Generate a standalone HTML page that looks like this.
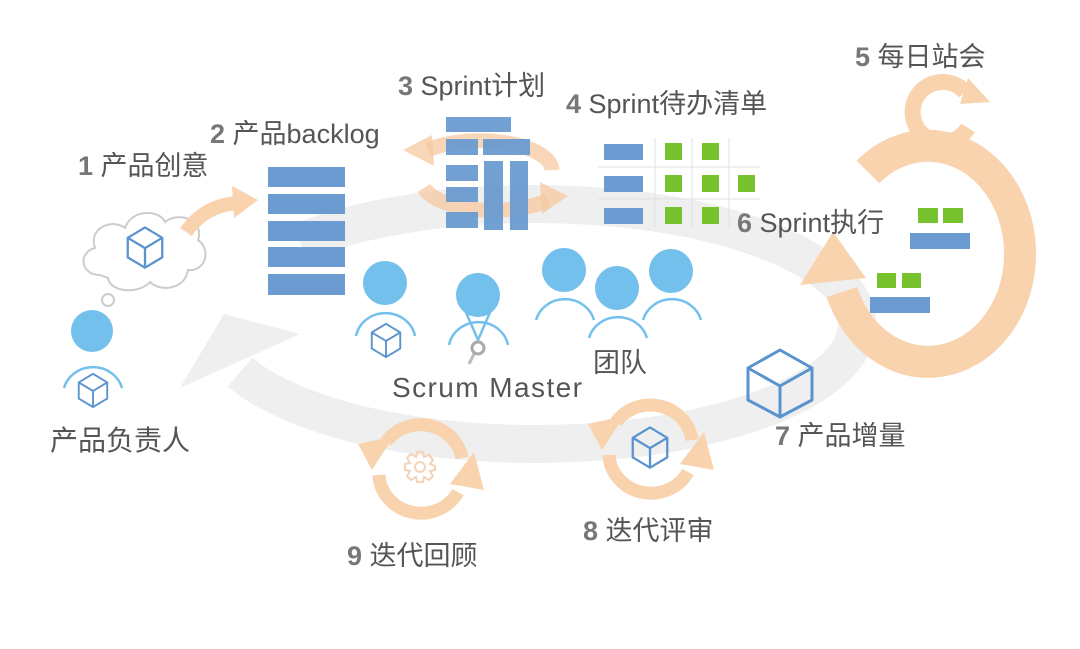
<!DOCTYPE html>
<html><head><meta charset="utf-8"><style>
html,body{margin:0;padding:0;background:#fff;}
svg{display:block;}
text{font-family:"Liberation Sans","Noto Sans CJK SC",sans-serif;fill:#555;}
.n{fill:#777;font-weight:bold;}
</style></head><body>
<svg width="1080" height="649" viewBox="0 0 1080 649" xmlns="http://www.w3.org/2000/svg">
<defs>
<g id="cube"><path d="M0,-17 L15,-8 L15,9 L0,18 L-15,9 L-15,-8 Z M-15,-8 L0,1 L15,-8 M0,1 L0,18" fill="none" stroke="#5b93cf" stroke-width="2" stroke-linejoin="round"/></g>
</defs>

<!-- grey ring -->
<path d="M300,242 A322,120 0 1 1 240,372" fill="none" stroke="#efefef" stroke-width="38"/>
<polygon points="180,388 224,314 300,334" fill="#efefef"/>

<!-- cloud -->
<g fill="#fff" stroke="#ccc" stroke-width="2">
<path d="M100,275 C80,275 78,252 95,248 C88,228 112,218 125,228 C132,208 160,210 165,222 C180,210 205,222 198,240 C212,250 205,272 188,270 C185,290 160,292 150,282 C138,295 110,292 108,278 Z"/>
<circle cx="108" cy="300" r="6"/>
</g>
<use href="#cube" transform="translate(145,247) scale(1.15)"/>
<path d="M186,232 Q205,205 238,203" fill="none" stroke="#f8d3ae" stroke-width="14"/>
<polygon points="232,186 258,200 234,218" fill="#f8d3ae"/>

<!-- product owner -->
<circle cx="92" cy="331" r="21" fill="#74c0ec"/>
<path d="M64,388 A30,28 0 0 1 122,388" fill="none" stroke="#74c0ec" stroke-width="2.5"/>
<use href="#cube" transform="translate(93,390) scale(0.95)"/>

<!-- backlog -->
<g fill="#6b9bd1">
<rect x="268" y="167" width="77" height="20"/>
<rect x="268" y="194" width="77" height="20"/>
<rect x="268" y="221" width="77" height="20"/>
<rect x="268" y="247" width="77" height="20"/>
<rect x="268" y="274" width="77" height="21"/>
</g>

<!-- sprint plan -->
<g fill="none" stroke="#f6c9a0" stroke-width="15" opacity="0.75">
<path d="M552,170 A72,30 0 0 0 428,150"/>
<path d="M424,188 A72,30 0 0 0 548,200"/>
</g>
<g fill="#f6c9a0" opacity="0.75">
<polygon points="403,150 432,135 434,166"/>
<polygon points="568,196 540,182 542,214"/>
</g>
<g fill="#6b9bd1" opacity="0.95">
<rect x="446" y="117" width="65" height="15"/>
<rect x="446" y="139" width="32" height="16"/>
<rect x="483" y="139" width="47" height="16"/>
<rect x="446" y="165" width="32" height="16"/>
<rect x="446" y="187" width="32" height="15"/>
<rect x="446" y="212" width="32" height="16"/>
<rect x="484" y="161" width="19" height="69"/>
<rect x="510" y="161" width="18" height="69"/>
</g>

<!-- sprint backlog grid -->
<g stroke="#e0e0e0" stroke-width="1">
<line x1="655" y1="138" x2="655" y2="228"/><line x1="692" y1="138" x2="692" y2="228"/><line x1="729" y1="138" x2="729" y2="228"/>
<line x1="598" y1="167" x2="760" y2="167"/><line x1="598" y1="199" x2="760" y2="199"/>
</g>
<g fill="#6b9bd1">
<rect x="604" y="144" width="39" height="16"/><rect x="604" y="176" width="39" height="16"/><rect x="604" y="208" width="39" height="16"/>
</g>
<g fill="#77c22f">
<rect x="665" y="143" width="17" height="17"/><rect x="702" y="143" width="17" height="17"/>
<rect x="665" y="175" width="17" height="17"/><rect x="702" y="175" width="17" height="17"/><rect x="738" y="175" width="17" height="17"/>
<rect x="665" y="207" width="17" height="17"/><rect x="702" y="207" width="17" height="17"/>
</g>

<!-- daily standup & execution loop -->
<path d="M965,92 A30,30 0 1 0 968,128" fill="none" stroke="#f8d3ae" stroke-width="16"/>
<polygon points="968,78 990,102 960,104" fill="#f8d3ae"/>
<path d="M868,172 A92,108 0 1 1 842,292" fill="none" stroke="#f8d3ae" stroke-width="32"/>
<polygon points="833,232 800,285 866,278" fill="#f8d3ae"/>
<g fill="#77c22f">
<rect x="918" y="208" width="20" height="15"/><rect x="943" y="208" width="20" height="15"/>
<rect x="877" y="273" width="19" height="15"/><rect x="902" y="273" width="19" height="15"/>
</g>
<g fill="#6b9bd1">
<rect x="910" y="233" width="60" height="16"/>
<rect x="870" y="297" width="60" height="16"/>
</g>

<!-- people -->
<g fill="#74c0ec">
<circle cx="385" cy="283" r="22"/>
<circle cx="478" cy="295" r="22"/>
<circle cx="564" cy="270" r="22"/>
<circle cx="617" cy="288" r="22"/>
<circle cx="671" cy="271" r="22"/>
</g>
<g fill="none" stroke="#74c0ec" stroke-width="2.5">
<path d="M356,336 A30,28 0 0 1 415,336"/>
<path d="M449,345 A30,28 0 0 1 508,345"/>
<path d="M465,310 L478,340 L491,310"/>
<path d="M536,320 A30,28 0 0 1 594,320"/>
<path d="M589,338 A30,28 0 0 1 647,338"/>
<path d="M643,320 A30,28 0 0 1 701,320"/>
</g>
<use href="#cube" transform="translate(386,340) scale(0.95)"/>
<circle cx="478" cy="348" r="6" fill="none" stroke="#aaa" stroke-width="3"/>
<line x1="474" y1="354" x2="469" y2="364" stroke="#bbb" stroke-width="3"/>

<!-- product increment cube -->
<path d="M780,350 L812,368 L812,400 L780,417 L748,400 L748,368 Z M748,368 L780,386 L812,368 M780,386 L780,417" fill="none" stroke="#5b93cf" stroke-width="3" stroke-linejoin="round"/>

<!-- cycle 8 -->
<g fill="none" stroke="#f8d3ae" stroke-width="13">
<path d="M692,440 A42,40 0 0 0 616,422"/>
<path d="M609,455 A42,40 0 0 0 688,472"/>
</g>
<g fill="#f8d3ae">
<polygon points="588,424 624,416 602,450"/>
<polygon points="714,470 680,464 704,432"/>
</g>
<use href="#cube" transform="translate(650,447) scale(1.15)"/>

<!-- cycle 9 -->
<g fill="none" stroke="#f8d3ae" stroke-width="13">
<path d="M462,458 A42,40 0 0 0 386,442"/>
<path d="M379,475 A42,40 0 0 0 458,492"/>
</g>
<g fill="#f8d3ae">
<polygon points="358,444 394,436 372,470"/>
<polygon points="484,490 450,484 474,452"/>
</g>
<g transform="translate(420,467)" fill="none" stroke="#f4d3b8" stroke-width="2">
<path d="M-3,-15 L3,-15 L4,-10 L9,-12 L13,-7 L10,-3 L15,-1 L15,3 L10,4 L13,9 L9,13 L4,10 L3,15 L-3,15 L-4,10 L-9,13 L-13,9 L-10,4 L-15,3 L-15,-3 L-10,-4 L-13,-9 L-9,-13 L-4,-10 Z"/><circle r="5"/>
</g>

<!-- labels -->
<text x="78" y="175" font-size="27"><tspan class="n">1</tspan> 产品创意</text>
<text x="210" y="143" font-size="27"><tspan class="n">2</tspan> 产品backlog</text>
<text x="398" y="95" font-size="27"><tspan class="n">3</tspan> Sprint计划</text>
<text x="566" y="113" font-size="27"><tspan class="n">4</tspan> Sprint待办清单</text>
<text x="855" y="66" font-size="27"><tspan class="n">5</tspan> 每日站会</text>
<text x="737" y="232" font-size="27"><tspan class="n">6</tspan> Sprint执行</text>
<text x="593" y="372" font-size="27">团队</text>
<text x="392" y="397" font-size="28" textLength="190">Scrum Master</text>
<text x="50" y="450" font-size="28">产品负责人</text>
<text x="775" y="445" font-size="27"><tspan class="n">7</tspan> 产品增量</text>
<text x="583" y="540" font-size="27"><tspan class="n">8</tspan> 迭代评审</text>
<text x="347" y="565" font-size="27"><tspan class="n">9</tspan> 迭代回顾</text>
</svg>
</body></html>
